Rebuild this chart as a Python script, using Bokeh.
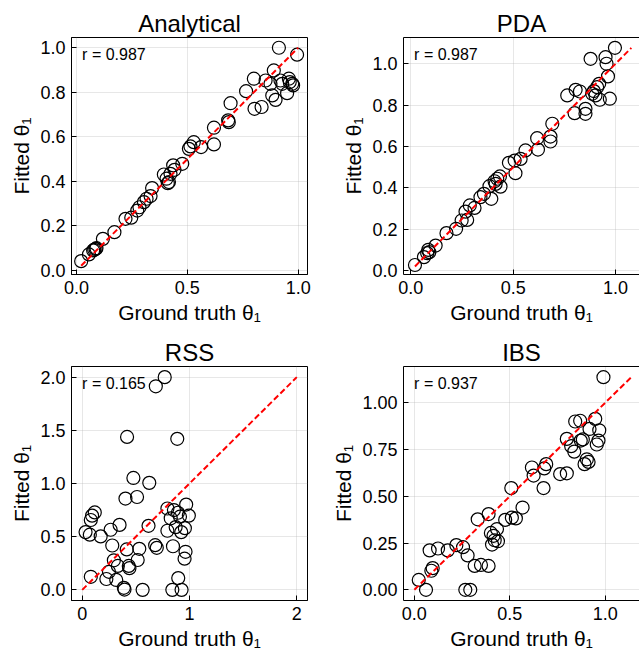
from bokeh.plotting import figure
from bokeh.layouts import gridplot
from bokeh.models import FixedTicker, Label, Range1d, LinearAxis
from bokeh.embed import file_html
from bokeh.resources import INLINE

FONT = "Liberation Sans"

# ---------------- data ----------------
titles = ["Analytical", "PDA", "RSS", "IBS"]
r_values = ["0.987", "0.987", "0.165", "0.937"]

ana_x = [0.021, 0.056, 0.075, 0.086, 0.080, 0.090, 0.119, 0.171, 0.221, 0.247, 0.274, 0.284,
         0.304, 0.316, 0.334, 0.341, 0.394, 0.406, 0.412, 0.417, 0.424, 0.436, 0.442, 0.477,
         0.507, 0.514, 0.529, 0.562, 0.620, 0.620, 0.684, 0.687, 0.695, 0.765, 0.800, 0.803,
         0.835, 0.853, 0.875, 0.883, 0.890, 0.898, 0.913, 0.920, 0.928, 0.950, 0.958, 0.962,
         0.973, 0.977, 0.995]
ana_y = [0.042, 0.072, 0.090, 0.097, 0.093, 0.100, 0.142, 0.172, 0.232, 0.237, 0.269, 0.284,
         0.307, 0.322, 0.334, 0.370, 0.431, 0.412, 0.392, 0.397, 0.434, 0.472, 0.452, 0.479,
         0.546, 0.557, 0.576, 0.554, 0.566, 0.641, 0.674, 0.666, 0.751, 0.805, 0.861, 0.726,
         0.734, 0.853, 0.838, 0.786, 0.898, 0.766, 1.000, 0.853, 0.838, 0.796, 0.861, 0.846,
         0.838, 0.831, 0.969]

pda_x = [0.020, 0.064, 0.080, 0.085, 0.090, 0.121, 0.174, 0.221, 0.248, 0.275, 0.267, 0.288,
         0.311, 0.340, 0.357, 0.384, 0.393, 0.409, 0.414, 0.422, 0.435, 0.438, 0.479, 0.507,
         0.536, 0.511, 0.560, 0.621, 0.617, 0.682, 0.682, 0.691, 0.764, 0.805, 0.800, 0.826,
         0.853, 0.853, 0.878, 0.886, 0.894, 0.902, 0.910, 0.920, 0.923, 0.951, 0.956, 0.963,
         0.972, 0.997]
pda_y = [0.027, 0.065, 0.084, 0.100, 0.089, 0.121, 0.181, 0.202, 0.242, 0.245, 0.285, 0.315,
         0.303, 0.355, 0.371, 0.408, 0.347, 0.432, 0.419, 0.444, 0.455, 0.406, 0.521, 0.532,
         0.540, 0.471, 0.581, 0.585, 0.640, 0.648, 0.624, 0.710, 0.847, 0.874, 0.761, 0.866,
         0.782, 0.758, 1.024, 0.855, 0.868, 0.847, 0.887, 0.903, 0.826, 1.032, 1.000, 0.939,
         0.831, 1.077]

rss_x = [0.031, 0.071, 0.080, 0.080, 0.092, 0.117, 0.172, 0.225, 0.249, 0.265, 0.280, 0.295,
         0.317, 0.332, 0.348, 0.388, 0.394, 0.403, 0.415, 0.418, 0.434, 0.440, 0.477, 0.511,
         0.517, 0.532, 0.563, 0.618, 0.625, 0.680, 0.695, 0.686, 0.769, 0.794, 0.794, 0.825,
         0.846, 0.840, 0.855, 0.871, 0.886, 0.892, 0.895, 0.911, 0.923, 0.926, 0.957, 0.963,
         0.954, 0.969, 0.994]
rss_y = [0.543, 0.519, 0.123, 0.657, 0.698, 0.728, 0.503, 0.102, 0.170, 0.565, 0.417, 0.278,
         0.093, 0.225, 0.611, 0.019, 0.003, 0.858, 0.380, 1.438, 0.225, 0.204, 1.052, 0.873,
         0.281, 0.386, 0.000, 0.602, 1.006, 0.420, 0.395, 1.914, 2.000, 0.556, 0.765, 0.673,
         0.410, 0.000, 0.750, 0.590, 1.420, 0.725, 0.111, 0.688, 0.543, 0.000, 0.580, 0.358,
         0.293, 0.802, 0.698]

ibs_x = [0.023, 0.061, 0.080, 0.089, 0.096, 0.124, 0.175, 0.220, 0.255, 0.279, 0.267, 0.293,
         0.316, 0.332, 0.349, 0.389, 0.389, 0.401, 0.407, 0.415, 0.421, 0.433, 0.438, 0.476,
         0.508, 0.511, 0.532, 0.567, 0.616, 0.625, 0.677, 0.681, 0.691, 0.764, 0.799, 0.799,
         0.822, 0.838, 0.843, 0.869, 0.872, 0.883, 0.892, 0.904, 0.913, 0.918, 0.948, 0.956,
         0.965, 0.969, 0.991]
ibs_y = [0.053, 0.000, 0.211, 0.102, 0.116, 0.221, 0.211, 0.239, 0.228, 0.184, 0.000, 0.000,
         0.128, 0.377, 0.133, 0.128, 0.405, 0.304, 0.242, 0.289, 0.265, 0.325, 0.260, 0.374,
         0.544, 0.386, 0.382, 0.440, 0.654, 0.611, 0.544, 0.649, 0.672, 0.619, 0.623, 0.807,
         0.768, 0.739, 0.900, 0.904, 0.798, 0.804, 0.672, 0.698, 0.684, 0.860, 0.914, 0.777,
         0.798, 0.853, 1.137]

# tick values and labels
ticks_x = [[0.0, 0.5, 1.0], [0.0, 0.5, 1.0], [0, 1, 2], [0.0, 0.5, 1.0]]
ticks_x_labels = [["0.0", "0.5", "1.0"], ["0.0", "0.5", "1.0"], ["0", "1", "2"], ["0.0", "0.5", "1.0"]]
ticks_y = [[0.0, 0.2, 0.4, 0.6, 0.8, 1.0], [0.0, 0.2, 0.4, 0.6, 0.8, 1.0],
           [0.0, 0.5, 1.0, 1.5, 2.0], [0.0, 0.25, 0.5, 0.75, 1.0]]
ticks_y_labels = [["0.0", "0.2", "0.4", "0.6", "0.8", "1.0"], ["0.0", "0.2", "0.4", "0.6", "0.8", "1.0"],
                  ["0.0", "0.5", "1.0", "1.5", "2.0"], ["0.00", "0.25", "0.50", "0.75", "1.00"]]

# axis limits (view extents)
x_limits = [(-0.0226, 1.042), (-0.036, 1.117), (-0.1, 2.1), (-0.057, 1.18)]
y_limits = [(-0.018, 1.046), (-0.019, 1.127), (-0.1, 2.1), (-0.057, 1.194)]

series = [(ana_x, ana_y), (pda_x, pda_y), (rss_x, rss_y), (ibs_x, ibs_y)]

# layout sizes
fig_w = [320, 319, 320, 319]
fig_h = [330, 330, 322, 322]
b_left = [71, 83, 71, 83]
b_right = [13, 0, 13, 0]
b_top = [37, 37, 36, 36]
b_bottom = [56, 56, 49, 49]
cut_right = [False, True, False, True]   # right-column panels run off the page edge

figs = []
for i in range(4):
    xs, ys = series[i]
    p = figure(width=fig_w[i], height=fig_h[i], output_backend="svg", toolbar_location=None,
               x_range=Range1d(*x_limits[i]), y_range=Range1d(*y_limits[i]),
               min_border_left=b_left[i], min_border_right=b_right[i],
               min_border_top=b_top[i], min_border_bottom=b_bottom[i],
               background_fill_color="white", border_fill_color="white")
    p.title.text = titles[i]
    p.title.align = "center"
    p.title.text_font = FONT
    p.title.text_font_size = "24px"
    p.title.text_font_style = "normal"
    p.title.text_color = "black"
    p.title.standoff = 2

    xax = p.below[0]
    yax = p.left[0]

    if cut_right[i]:
        p.outline_line_color = None
        top_axis = LinearAxis(ticker=FixedTicker(ticks=[]), major_tick_in=0, major_tick_out=0,
                              minor_tick_in=0, minor_tick_out=0,
                              major_label_text_font_size="0px", major_label_standoff=0,
                              axis_label=None,
                              axis_line_color="black", axis_line_width=1)
        p.add_layout(top_axis, "above")
    else:
        p.outline_line_color = "black"
        p.outline_line_width = 1
        p.outline_line_alpha = 1

    xax.ticker = FixedTicker(ticks=ticks_x[i])
    yax.ticker = FixedTicker(ticks=ticks_y[i])
    xax.major_label_overrides = {t: l for t, l in zip(ticks_x[i], ticks_x_labels[i])}
    yax.major_label_overrides = {t: l for t, l in zip(ticks_y[i], ticks_y_labels[i])}
    xax.axis_label = "Ground truth θ₁"
    yax.axis_label = "Fitted θ₁"
    for ax in (xax, yax):
        ax.axis_label_text_font = FONT
        ax.axis_label_text_font_size = "21px"
        ax.axis_label_text_font_style = "normal"
        ax.axis_label_text_color = "black"
        ax.axis_label_standoff = 4
        ax.major_label_text_font = FONT
        ax.major_label_text_font_size = "18px"
        ax.major_label_text_color = "black"
        ax.major_label_standoff = 6
        ax.major_tick_in = 5
        ax.major_tick_out = 0
        ax.minor_tick_line_color = None
        ax.axis_line_color = "black"
        ax.major_tick_line_color = "black"
    p.xgrid.ticker = FixedTicker(ticks=ticks_x[i])
    p.ygrid.ticker = FixedTicker(ticks=ticks_y[i])
    p.xgrid.grid_line_color = "#b0b0b0"
    p.ygrid.grid_line_color = "#b0b0b0"
    p.xgrid.grid_line_alpha = 0.3
    p.ygrid.grid_line_alpha = 0.3

    p.scatter(xs, ys, size=13, marker="circle", fill_color=None,
              line_color="black", line_width=1.2)
    lo = min(min(xs), min(ys))
    hi = max(max(xs), max(ys))
    p.line([lo, hi], [lo, hi], line_color="red", line_width=2, line_dash="6 3")

    x0, x1 = x_limits[i]
    y0, y1 = y_limits[i]
    p.add_layout(Label(x=x0 + 0.045 * (x1 - x0), y=y1 - 0.035 * (y1 - y0),
                       text="r = " + r_values[i], text_baseline="top", text_align="left",
                       text_font=FONT, text_font_size="16px", text_color="black"))
    figs.append(p)

grid = gridplot([[figs[0], figs[1]], [figs[2], figs[3]]], toolbar_location=None)

open("out.html", "w").write(file_html(grid, INLINE))
